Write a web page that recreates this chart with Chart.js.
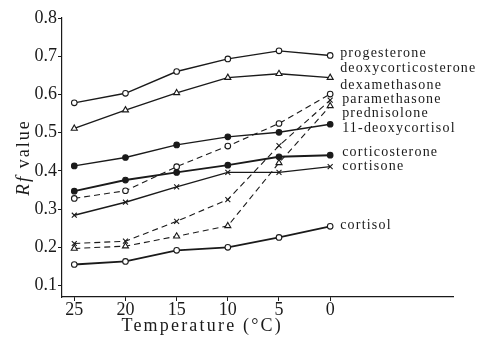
<!DOCTYPE html>
<html>
<head>
<meta charset="utf-8">
<script src="https://cdn.jsdelivr.net/npm/chart.js@4"></script>
<style>
html,body{margin:0;padding:0;background:#fff;}
#wrap{width:478px;height:337px;position:relative;}
</style>
</head>
<body>
<div id="wrap"><canvas id="c" width="478" height="337"></canvas></div>
<script>
// ---- data ----
const temps = [25, 20, 15, 10, 5, 0];
const yTicks = [0.1, 0.2, 0.3, 0.4, 0.5, 0.6, 0.7, 0.8];
const progesterone        = [0.578, 0.603, 0.660, 0.693, 0.714, 0.702];
const deoxycorticosterone = [0.511, 0.559, 0.604, 0.644, 0.654, 0.644];
const dexamethasone       = [0.328, 0.348, 0.411, 0.465, 0.524, 0.601];
const paramethasone       = [0.210, 0.216, 0.268, 0.325, 0.466, 0.585];
const prednisolone        = [0.197, 0.203, 0.229, 0.256, 0.421, 0.570];
const deoxycortisol       = [0.413, 0.435, 0.468, 0.489, 0.501, 0.522];
const corticosterone      = [0.347, 0.376, 0.396, 0.415, 0.437, 0.441];
const cortisone           = [0.284, 0.318, 0.358, 0.396, 0.396, 0.411];
const cortisol            = [0.155, 0.163, 0.192, 0.200, 0.226, 0.255];
const xTitle = 'Temperature (°C)';

const INK = '#1a1a1a';
const SERIF = '"Liberation Serif", "DejaVu Serif", serif';

function pts(arr){ return arr.map((v,i)=>({x:temps[i], y:v})); }

function ds(label, arr, point, fill, dashed, width){
  return {
    label, data: pts(arr),
    borderColor: INK, borderWidth: width || 1.4,
    borderDash: dashed ? [6,4] : [],
    pointStyle: point,
    pointRadius: point === 'triangle' ? 3.5 : (point === 'crossRot' ? 3.5 : 2.8),
    pointBorderWidth: 1.1,
    pointBackgroundColor: fill ? INK : '#fff',
    pointBorderColor: INK,
    tension: 0, fill: false
  };
}

const datasets = [
  ds('progesterone', progesterone, 'circle', false, false),
  ds('deoxycorticosterone', deoxycorticosterone, 'triangle', false, false),
  ds('dexamethasone', dexamethasone, 'circle', false, true, 1.1),
  ds('paramethasone', paramethasone, 'crossRot', false, true, 1.1),
  ds('prednisolone', prednisolone, 'triangle', false, true, 1.1),
  ds('11-deoxycortisol', deoxycortisol, 'circle', true, false),
  ds('corticosterone', corticosterone, 'circle', true, false, 1.9),
  ds('cortisone', cortisone, 'crossRot', false, false),
  ds('cortisol', cortisol, 'circle', false, false, 1.8)
];

// label placement tweaks (pixels), styling only
const labelShift = {
  'progesterone': [10, -2],
  'deoxycorticosterone': [10, -9],
  'dexamethasone': [10, -9],
  'paramethasone': [12, -1],
  'prednisolone': [12, 7],
  '11-deoxycortisol': [12, 4],
  'corticosterone': [12, -3],
  'cortisone': [12, 0],
  'cortisol': [10, -1]
};

const textPlugin = {
  id: 'texts',
  afterDatasetsDraw(chart){
    const ctx = chart.ctx;
    ctx.save();
    ctx.fillStyle = INK;
    ctx.font = '14px ' + SERIF;
    ctx.letterSpacing = '1.2px';
    ctx.textAlign = 'left';
    ctx.textBaseline = 'middle';
    chart.data.datasets.forEach((d, i) => {
      const meta = chart.getDatasetMeta(i);
      const last = meta.data[meta.data.length - 1];
      const s = labelShift[d.label] || [10, 0];
      ctx.fillText(d.label, last.x + s[0], last.y + s[1]);
    });
    const xs = chart.scales.x;
    ctx.font = '18px ' + SERIF;
    ctx.letterSpacing = '2.2px';
    ctx.textAlign = 'center';
    ctx.textBaseline = 'middle';
    ctx.fillText(xTitle, xs.getPixelForValue(12.5), 326);
    const ys = chart.scales.y;
    const cy = (ys.top + ys.bottom) / 2;
    ctx.translate(24, cy);
    ctx.rotate(-Math.PI / 2);
    ctx.textAlign = 'left';
    ctx.letterSpacing = '2px';
    ctx.font = 'italic 19px ' + SERIF;
    const p1 = 'Rf';
    const w1 = ctx.measureText(p1).width;
    ctx.font = '18px ' + SERIF;
    const p2 = ' value';
    const w2 = ctx.measureText(p2).width;
    const start = -(w1 + w2) / 2;
    ctx.font = 'italic 19px ' + SERIF;
    ctx.fillText(p1, start, 0);
    ctx.font = '18px ' + SERIF;
    ctx.fillText(p2, start + w1, 0);
    ctx.restore();
  }
};

new Chart(document.getElementById('c'), {
  type: 'line',
  data: { datasets },
  options: {
    responsive: false,
    animation: false,
    devicePixelRatio: 1,
    layout: { padding: { top: 18, right: 25, left: 0, bottom: 0 } },
    plugins: { legend: { display: false }, tooltip: { enabled: false } },
    scales: {
      x: {
        type: 'linear', reverse: true, min: -12, max: 26.2,
        afterBuildTicks(s){ s.ticks = temps.map(v => ({ value: v })); },
        afterFit(s){ s.height = 40; },
        grid: { drawOnChartArea: false, tickLength: 4, color: INK },
        border: { display: true, color: INK, width: 1.2 },
        ticks: { color: INK, font: { family: SERIF, size: 18 }, padding: -2, maxRotation: 0,
                 callback: v => String(v) }
      },
      y: {
        type: 'linear', min: 0.07, max: 0.8,
        afterBuildTicks(s){ s.ticks = yTicks.map(v => ({ value: v })); },
        afterFit(s){ s.width = 62; },
        grid: { drawOnChartArea: false, tickLength: 4, color: INK },
        border: { display: true, color: INK, width: 1.2 },
        ticks: { color: INK, font: { family: SERIF, size: 18 }, padding: 1,
                 callback: v => v.toFixed(1) }
      }
    }
  },
  plugins: [textPlugin]
});
</script>
</body>
</html>
